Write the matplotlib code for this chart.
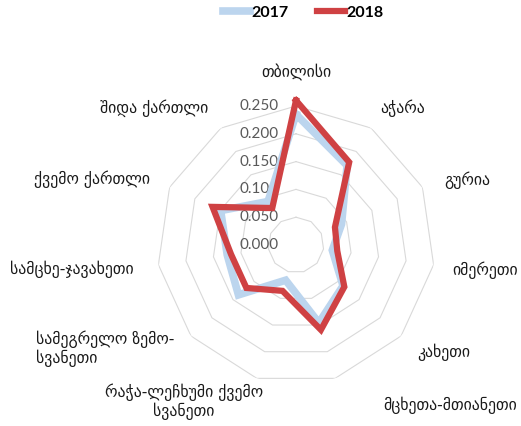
import numpy as np
import matplotlib.pyplot as plt

categories = ['თბილისი', 'აჭარა', 'გურია', 'იმერეთი', 'კახეთი', 'მცხეთა-მთიანეთი',
              'რაჭა-ლეჩხუმი ქვემო\nსვანეთი', 'სამეგრელო ზემო-\nსვანეთი',
              'სამცხე-ჯავახეთი', 'ქვემო ქართლი', 'შიდა ქართლი']
values_2017 = [0.235, 0.170, 0.090, 0.066, 0.112, 0.146, 0.066, 0.137, 0.125, 0.149, 0.093]
values_2018 = [0.260, 0.177, 0.077, 0.075, 0.115, 0.159, 0.086, 0.118, 0.118, 0.165, 0.079]
rings = [0.0, 0.05, 0.10, 0.15, 0.20, 0.25]
ring_labels = ['0.000', '0.050', '0.100', '0.150', '0.200', '0.250']

# label centres in pixels (x from left, y from top)
label_px = [(296, 72), (403, 108), (467, 180), (485, 270), (444, 352), (450, 405),
            (184, 402), (105, 349), (72, 269), (92, 179), (154, 108)]
label_align = ['center', 'center', 'center', 'center', 'center', 'center',
               'center', 'left', 'center', 'center', 'center']

W, H = 521, 426
n = len(categories)
theta = np.linspace(0, 2 * np.pi, n, endpoint=False)
theta_c = np.append(theta, theta[0])

fig = plt.figure(figsize=(W / 100, H / 100), dpi=100)
cx, cy, R = 296, 245, 139
ax = fig.add_axes([(cx - R) / W, (H - cy - R) / H, 2 * R / W, 2 * R / H], projection='polar')
ax.set_theta_zero_location('N')
ax.set_theta_direction(-1)
ax.set_ylim(0, 0.25)
ax.grid(False)
ax.spines['polar'].set_visible(False)
ax.set_xticks([])
ax.set_yticks([])
ax.patch.set_alpha(0)

for r in rings[1:]:
    ax.plot(theta_c, [r] * (n + 1), color='#d9d9d9', lw=0.8, zorder=1)

for r, lab in zip(rings, ring_labels):
    ax.annotate(lab, xy=(0, r), xytext=(-17, 0), textcoords='offset pixels',
                ha='right', va='center', fontsize=11, color='#595959',
                family=['Lato', 'DejaVu Sans'])

ax.plot(theta_c, values_2017 + values_2017[:1], color='#bcd5ee', lw=5.5,
        solid_joinstyle='miter', clip_on=False, zorder=3, label='2017')
ax.plot(theta_c, values_2018 + values_2018[:1], color='#cf4143', lw=4.5,
        solid_joinstyle='miter', clip_on=False, zorder=4, label='2018')

for lab, (px, py), al in zip(categories, label_px, label_align):
    fig.text(px / W, 1 - py / H, lab, ha='center', va='center', multialignment=al,
             fontsize=11.3, color='#1a1a1a', family=['DejaVu Sans'], linespacing=1.1)

fig.legend(loc='center', bbox_to_anchor=(303 / W, 1 - 13 / H), ncol=2, frameon=False,
           handlelength=1.7, handletextpad=0.1, columnspacing=1.8,
           prop={'family': ['Lato', 'DejaVu Sans'], 'weight': 'bold', 'size': 11.5})

fig.savefig('out.png', dpi=100)
